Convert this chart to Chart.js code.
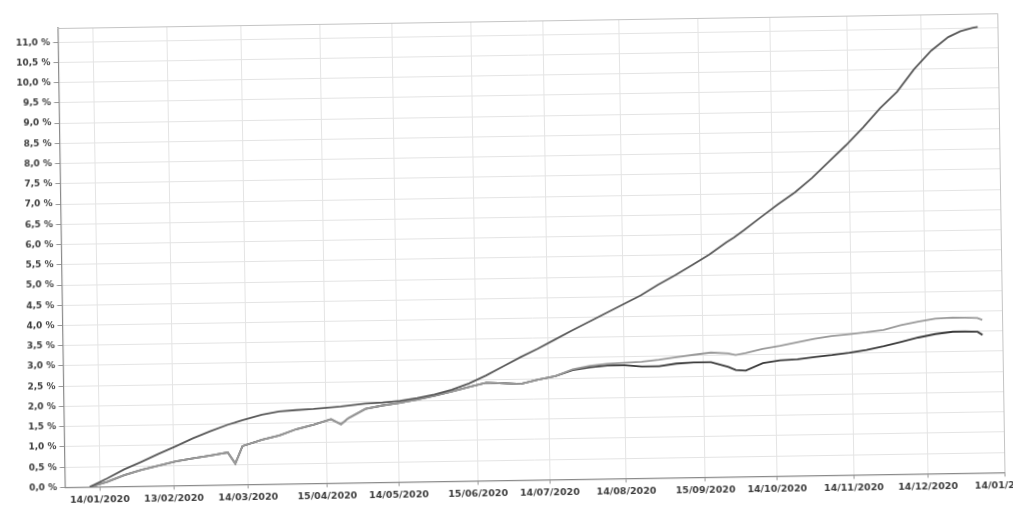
<!DOCTYPE html>
<html>
<head>
<meta charset="utf-8">
<script src="https://cdn.jsdelivr.net/npm/chart.js@4/dist/chart.umd.min.js"></script>
<style>
  html, body { margin: 0; padding: 0; background: #ffffff; overflow: hidden; width: 1013px; height: 510px; }
  #wrap { position: absolute; left: 0; top: 0; width: 1045px; height: 510px;
          transform: rotate(-0.9deg); transform-origin: 506px 255px; }
</style>
</head>
<body>
<div id="wrap"><canvas id="c"></canvas></div>
<script>
// Day offsets from 14/01/2020
const days = [-4, 3, 10, 17, 24, 31, 38, 45, 52, 55, 58, 66, 73, 80, 87, 94, 98, 101, 108, 115, 122, 129, 136, 143, 150, 157, 164, 171, 178, 185, 192, 199, 206, 213, 220, 227, 234, 241, 248, 255, 258, 262, 269, 276, 283, 290, 297, 304, 311, 318, 325, 332, 339, 346, 351, 356, 358];

const seriesA = [0, 0.20, 0.42, 0.60, 0.79, 0.97, 1.16, 1.33, 1.48, 1.53, 1.59, 1.72, 1.79, 1.82, 1.84, 1.87, 1.89, 1.91, 1.95, 1.97, 2.01, 2.07, 2.15, 2.26, 2.41, 2.60, 2.82, 3.04, 3.24, 3.46, 3.68, 3.89, 4.10, 4.31, 4.52, 4.77, 5.00, 5.25, 5.50, 5.80, 5.91, 6.08, 6.40, 6.71, 7.00, 7.35, 7.75, 8.15, 8.58, 9.05, 9.45, 10.00, 10.45, 10.78, 10.92, 11.00, 11.02];

const seriesB = [0, 0.12, 0.28, 0.40, 0.50, 0.60, 0.67, 0.73, 0.80, 0.52, 0.95, 1.10, 1.20, 1.35, 1.45, 1.58, 1.45, 1.60, 1.82, 1.90, 1.96, 2.03, 2.12, 2.22, 2.32, 2.42, 2.40, 2.38, 2.48, 2.56, 2.72, 2.80, 2.84, 2.86, 2.88, 2.92, 2.98, 3.03, 3.08, 3.05, 3.01, 3.05, 3.15, 3.22, 3.30, 3.38, 3.44, 3.48, 3.52, 3.57, 3.68, 3.76, 3.83, 3.85, 3.84, 3.83, 3.78];

const seriesC = [0, 0.12, 0.28, 0.40, 0.50, 0.60, 0.67, 0.73, 0.80, 0.52, 0.95, 1.10, 1.20, 1.35, 1.45, 1.58, 1.45, 1.60, 1.82, 1.90, 1.96, 2.03, 2.12, 2.22, 2.32, 2.42, 2.40, 2.38, 2.48, 2.56, 2.70, 2.76, 2.80, 2.80, 2.76, 2.76, 2.82, 2.84, 2.84, 2.72, 2.64, 2.62, 2.80, 2.86, 2.88, 2.93, 2.97, 3.02, 3.08, 3.17, 3.27, 3.37, 3.45, 3.50, 3.50, 3.49, 3.41];

const tickDays = [0, 30, 60, 92, 121, 153, 182, 213, 245, 274, 305, 335, 366];
const tickLabels = ['14/01/2020', '13/02/2020', '14/03/2020', '15/04/2020', '14/05/2020', '15/06/2020', '14/07/2020', '14/08/2020', '15/09/2020', '14/10/2020', '14/11/2020', '14/12/2020', '14/01/2021'];

const yTicks = [0, 0.5, 1, 1.5, 2, 2.5, 3, 3.5, 4, 4.5, 5, 5.5, 6, 6.5, 7, 7.5, 8, 8.5, 9, 9.5, 10, 10.5, 11];
const yLabels = yTicks.map(v => v.toFixed(1).replace('.', ',') + ' %');

const toXY = arr => arr.map((v, i) => ({ x: days[i], y: v }));

const frame = {
  id: 'frame',
  afterDraw(chart) {
    const { ctx, chartArea: a } = chart;
    ctx.save();
    ctx.strokeStyle = '#c4c4c4';
    ctx.lineWidth = 1;
    ctx.beginPath();
    ctx.moveTo(a.left, a.top + 0.5);
    ctx.lineTo(a.right + 0.5, a.top + 0.5);
    ctx.lineTo(a.right + 0.5, a.bottom);
    ctx.stroke();
    ctx.restore();
  }
};

new Chart(document.getElementById('c'), {
  type: 'line',
  data: {
    datasets: [
      { data: toXY(seriesA), borderColor: '#5a5a5a', borderWidth: 1.8, pointRadius: 0, tension: 0 },
      { data: toXY(seriesB), borderColor: '#9a9a9a', borderWidth: 1.8, pointRadius: 0, tension: 0 },
      { data: toXY(seriesC), borderColor: '#3a3a3a', borderWidth: 1.8, pointRadius: 0, tension: 0 }
    ]
  },
  options: {
    responsive: true,
    maintainAspectRatio: false,
    animation: false,
    layout: { padding: { left: 11.5, top: 21, right: 44, bottom: 7.6 } },
    plugins: { legend: { display: false }, tooltip: { enabled: false } },
    scales: {
      x: {
        type: 'linear',
        min: -14,
        max: 366,
        afterBuildTicks: s => { s.ticks = tickDays.map(v => ({ value: v })); },
        afterFit: s => { s.height = 22; },
        ticks: {
          autoSkip: false, maxRotation: 0, minRotation: 0, padding: 3,
          color: '#3c3c3c', font: { family: 'DejaVu Sans', size: 9.5, weight: 'bold' },
          callback: v => tickLabels[tickDays.indexOf(v)]
        },
        grid: { color: '#e4e4e4', tickLength: 4, tickColor: '#999' },
        border: { color: '#8a8a8a', width: 1.2 }
      },
      y: {
        type: 'linear',
        min: 0,
        max: 11.35,
        afterBuildTicks: s => { s.ticks = yTicks.map(v => ({ value: v })); },
        afterFit: s => { s.width = 50; },
        ticks: {
          padding: 3,
          color: '#3c3c3c', font: { family: 'DejaVu Sans', size: 9, weight: 'bold' },
          callback: v => yLabels[yTicks.indexOf(v)]
        },
        grid: { color: '#e4e4e4', tickLength: 5, tickColor: '#999' },
        border: { color: '#8a8a8a', width: 1.2 }
      }
    }
  },
  plugins: [frame]
});
</script>
</body>
</html>
